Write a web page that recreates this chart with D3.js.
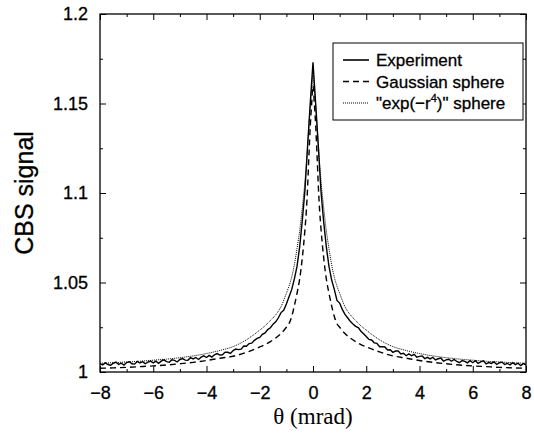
<!DOCTYPE html>
<html>
<head>
<meta charset="utf-8">
<script src="https://cdn.jsdelivr.net/npm/d3@7"></script>
<style>
  body { margin: 0; background: #fff; }
  text { font-family: "Liberation Sans", Arial, sans-serif; fill: #000; }
  .heavy { stroke: #000; stroke-width: 0.3px; }
</style>
</head>
<body>
<div class="chart"></div>
<script>
// Create SVG container
var svgWidth = 534;
var svgHeight = 434;

// Margins
var margin = {
  top: 14,
  right: 8,
  bottom: 62,
  left: 100
};

var width = svgWidth - margin.left - margin.right;
var height = svgHeight - margin.top - margin.bottom;

// Axis ticks
var xTicks = [-8, -6, -4, -2, 0, 2, 4, 6, 8];
var xMinorTicks = [-7, -5, -3, -1, 1, 3, 5, 7];
var yTicks = [1, 1.05, 1.1, 1.15, 1.2];
var yTickLabels = ["1", "1.05", "1.1", "1.15", "1.2"];
var yMinorTicks = [1.025, 1.075, 1.125, 1.175];

// Experiment, sampled every 0.1 mrad from -8 to 8
var expTheta = d3.range(-80, 81).map(d => d / 10);
var expSignal = [
  1.0047, 1.0040, 1.0051, 1.0042, 1.0038, 1.0049, 1.0055, 1.0042, 1.0049, 1.0039,
  1.0053, 1.0057, 1.0046, 1.0044, 1.0059, 1.0050, 1.0058, 1.0046, 1.0055, 1.0061,
  1.0051, 1.0061, 1.0049, 1.0061, 1.0068, 1.0058, 1.0054, 1.0068, 1.0065, 1.0056,
  1.0070, 1.0075, 1.0066, 1.0065, 1.0080, 1.0073, 1.0081, 1.0070, 1.0083, 1.0090,
  1.0081, 1.0093, 1.0083, 1.0096, 1.0103, 1.0095, 1.0096, 1.0111, 1.0110, 1.0104,
  1.0120, 1.0128, 1.0125, 1.0128, 1.0145, 1.0144, 1.0159, 1.0161, 1.0177, 1.0188,
  1.0193, 1.0210, 1.0218, 1.0237, 1.0247, 1.0267, 1.0280, 1.0303, 1.0332, 1.0345,
  1.0380, 1.0420, 1.0460, 1.0520, 1.0590, 1.0700, 1.0850, 1.1020, 1.1270, 1.1510,
  1.1730,
  1.1500, 1.1260, 1.1010, 1.0840, 1.0700, 1.0590, 1.0515, 1.0462, 1.0400, 1.0385,
  1.0350, 1.0322, 1.0303, 1.0283, 1.0268, 1.0255, 1.0248, 1.0228, 1.0214, 1.0198,
  1.0182, 1.0179, 1.0163, 1.0160, 1.0141, 1.0142, 1.0140, 1.0123, 1.0124, 1.0110,
  1.0117, 1.0117, 1.0101, 1.0105, 1.0091, 1.0101, 1.0091, 1.0099, 1.0083, 1.0087,
  1.0090, 1.0075, 1.0082, 1.0073, 1.0082, 1.0067, 1.0074, 1.0078, 1.0061, 1.0068,
  1.0071, 1.0060, 1.0070, 1.0059, 1.0052, 1.0064, 1.0059, 1.0051, 1.0063, 1.0052,
  1.0063, 1.0048, 1.0057, 1.0062, 1.0045, 1.0053, 1.0048, 1.0056, 1.0042, 1.0052,
  1.0055, 1.0042, 1.0048, 1.0040, 1.0052, 1.0041, 1.0049, 1.0036, 1.0047, 1.0040
];

// Model curves
var modelTheta = [
  -8, -7.5, -7, -6.5, -6, -5.5, -5, -4.5, -4, -3.5, -3, -2.5, -2, -1.8, -1.6, -1.4,
  -1.2, -1, -0.9, -0.8, -0.7, -0.6, -0.5, -0.4, -0.3, -0.25, -0.2, -0.15, -0.1, -0.05,
  0,
  0.05, 0.1, 0.15, 0.2, 0.25, 0.3, 0.4, 0.5, 0.6, 0.7, 0.8, 0.9, 1, 1.2,
  1.4, 1.6, 1.8, 2, 2.5, 3, 3.5, 4, 4.5, 5, 5.5, 6, 6.5, 7, 7.5, 8
];
var gaussSignal = [
  1.0021, 1.0023, 1.0026, 1.0030, 1.0034, 1.0039, 1.0046, 1.0054, 1.0064, 1.0077, 1.0088, 1.0110, 1.0140, 1.0153, 1.0170, 1.0190,
  1.0215, 1.0250, 1.0270, 1.0310, 1.0370, 1.0440, 1.0520, 1.0640, 1.0800, 1.0900, 1.1040, 1.1220, 1.1380, 1.1500,
  1.1600,
  1.1500, 1.1380, 1.1220, 1.1040, 1.0900, 1.0800, 1.0640, 1.0520, 1.0440, 1.0370, 1.0310, 1.0270, 1.0250, 1.0215,
  1.0190, 1.0170, 1.0153, 1.0140, 1.0112, 1.0090, 1.0077, 1.0064, 1.0054, 1.0046, 1.0039, 1.0034, 1.0030, 1.0026, 1.0023, 1.0021
];
var r4Signal = [
  1.0049, 1.0052, 1.0056, 1.0060, 1.0066, 1.0072, 1.0080, 1.0090, 1.0103, 1.0120, 1.0142, 1.0180, 1.0234, 1.0258, 1.0288, 1.0320,
  1.0365, 1.0440, 1.0480, 1.0530, 1.0600, 1.0690, 1.0790, 1.0920, 1.1070, 1.1160, 1.1270, 1.1380, 1.1490, 1.1580,
  1.1660,
  1.1580, 1.1490, 1.1380, 1.1270, 1.1160, 1.1070, 1.0920, 1.0790, 1.0690, 1.0600, 1.0530, 1.0480, 1.0440, 1.0365,
  1.0320, 1.0288, 1.0258, 1.0234, 1.0180, 1.0142, 1.0120, 1.0103, 1.0090, 1.0080, 1.0072, 1.0066, 1.0060, 1.0056, 1.0052, 1.0049
];

var legendLabels = ["Experiment", "Gaussian sphere", "\"exp(\u2212r4)\" sphere"];

var svg = d3
  .select(".chart")
  .append("svg")
  .attr("width", svgWidth)
  .attr("height", svgHeight);

var chartGroup = svg.append("g")
  .attr("transform", `translate(${margin.left}, ${margin.top})`);

// Scales
var xScale = d3.scaleLinear().domain([-8, 8]).range([0, width]);
var yScale = d3.scaleLinear().domain([1, 1.2]).range([height, 0]);

// Clip curves to the frame
chartGroup.append("clipPath")
  .attr("id", "clip")
  .append("rect")
  .attr("width", width)
  .attr("height", height);

var fmtX = d => d < 0 ? "\u2212" + Math.abs(d) : String(d);

// Bottom axis (ticks point inward)
var bottomAxis = chartGroup.append("g")
  .attr("transform", `translate(0, ${height})`)
  .call(d3.axisBottom(xScale).tickValues(xTicks).tickSize(-6).tickSizeOuter(0).tickFormat(fmtX));
bottomAxis.selectAll("text").attr("y", 14).attr("class", "heavy").style("font-size", "18px");

chartGroup.append("g")
  .attr("transform", `translate(0, ${height})`)
  .call(d3.axisBottom(xScale).tickValues(xMinorTicks).tickSize(-3).tickSizeOuter(0).tickFormat(""));

// Top axis
chartGroup.append("g")
  .call(d3.axisTop(xScale).tickValues(xTicks).tickSize(-6).tickSizeOuter(0).tickFormat(""));
chartGroup.append("g")
  .call(d3.axisTop(xScale).tickValues(xMinorTicks).tickSize(-3).tickSizeOuter(0).tickFormat(""));

// Left axis
var leftAxis = chartGroup.append("g")
  .call(d3.axisLeft(yScale).tickValues(yTicks).tickSize(-6).tickSizeOuter(0)
    .tickFormat((d, i) => yTickLabels[i]));
leftAxis.selectAll("text").attr("x", -12).attr("class", "heavy").style("font-size", "18px");

chartGroup.append("g")
  .call(d3.axisLeft(yScale).tickValues(yMinorTicks).tickSize(-3).tickSizeOuter(0).tickFormat(""));

// Right axis
chartGroup.append("g")
  .attr("transform", `translate(${width}, 0)`)
  .call(d3.axisRight(yScale).tickValues(yTicks).tickSize(-6).tickSizeOuter(0).tickFormat(""));
chartGroup.append("g")
  .attr("transform", `translate(${width}, 0)`)
  .call(d3.axisRight(yScale).tickValues(yMinorTicks).tickSize(-3).tickSizeOuter(0).tickFormat(""));

chartGroup.selectAll(".domain").remove();
chartGroup.selectAll(".tick line").attr("stroke", "#000").attr("stroke-width", 1);

// Frame
chartGroup.append("rect")
  .attr("width", width)
  .attr("height", height)
  .attr("fill", "none")
  .attr("stroke", "#000")
  .attr("stroke-width", 1.3);

// Curves
var line = d3.line()
  .x(d => xScale(d[0]))
  .y(d => yScale(d[1]));

var curves = chartGroup.append("g").attr("clip-path", "url(#clip)");

curves.append("path")
  .datum(d3.zip(modelTheta, r4Signal))
  .attr("d", line.curve(d3.curveMonotoneX))
  .attr("fill", "none")
  .attr("stroke", "#000")
  .attr("stroke-width", 1)
  .attr("stroke-dasharray", "1,1");

curves.append("path")
  .datum(d3.zip(modelTheta, gaussSignal))
  .attr("d", line.curve(d3.curveMonotoneX))
  .attr("fill", "none")
  .attr("stroke", "#000")
  .attr("stroke-width", 1.4)
  .attr("stroke-dasharray", "6,4");

curves.append("path")
  .datum(d3.zip(expTheta, expSignal))
  .attr("d", line.curve(d3.curveLinear))
  .attr("fill", "none")
  .attr("stroke", "#000")
  .attr("stroke-width", 1.4);

// Legend
var legend = svg.append("g").attr("transform", "translate(333, 43)");

legend.append("rect")
  .attr("width", 190)
  .attr("height", 77)
  .attr("fill", "#fff")
  .attr("stroke", "#000")
  .attr("stroke-width", 1);

var dashes = [null, "6,4", "1,1"];
var widths = [1.6, 1.4, 1];

legendLabels.forEach(function(label, i) {
  var yy = 17 + i * 21.5;
  legend.append("line")
    .attr("x1", 10)
    .attr("x2", 36)
    .attr("y1", yy)
    .attr("y2", yy)
    .attr("stroke", "#000")
    .attr("stroke-width", widths[i])
    .attr("stroke-dasharray", dashes[i]);

  var t = legend.append("text")
    .attr("x", 43)
    .attr("y", yy + 6)
    .attr("class", "heavy")
    .style("font-size", "17px");

  if (i === 2) {
    t.append("tspan").text("\"exp(\u2212r");
    t.append("tspan").attr("dy", -7).style("font-size", "11px").text("4");
    t.append("tspan").attr("dy", 7).text(")\" sphere");
  } else {
    t.text(label);
  }
});

// Axis labels
svg.append("text")
  .attr("transform", `translate(33, ${margin.top + height / 2}) rotate(-90)`)
  .attr("text-anchor", "middle")
  .attr("class", "heavy")
  .style("font-size", "25px")
  .text("CBS signal");

svg.append("text")
  .attr("x", margin.left + width / 2)
  .attr("y", 424)
  .attr("text-anchor", "middle")
  .style("font-family", "'Liberation Serif', 'Times New Roman', serif")
  .style("font-size", "23px")
  .text("\u03b8 (mrad)");
</script>
</body>
</html>
